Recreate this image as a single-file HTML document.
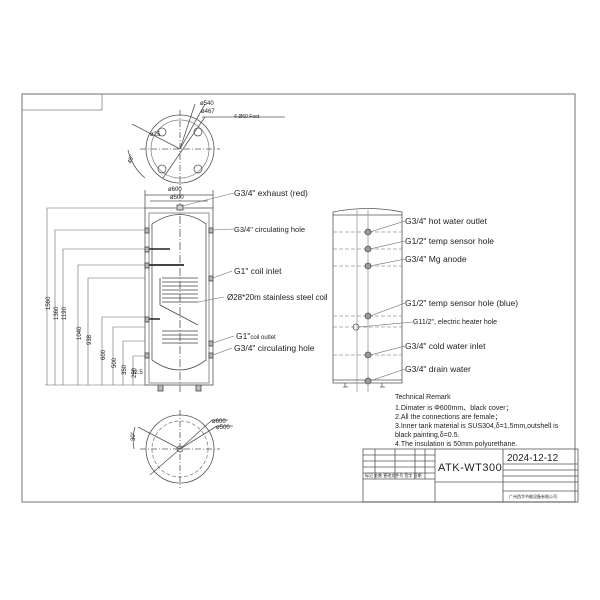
<!DOCTYPE html>
<html><head><meta charset="utf-8"><style>
html,body{margin:0;padding:0;background:#fff}
svg{display:block}
text{font-family:"Liberation Sans","Noto Sans CJK SC",sans-serif;fill:#222}
</style></head><body>
<svg width="600" height="600" viewBox="0 0 600 600" xmlns="http://www.w3.org/2000/svg">
<g fill="none" stroke="#555" stroke-width="0.8">
<!-- frame -->
<rect x="22" y="94" width="553" height="408" stroke="#888" stroke-width="1.2"/>
<rect x="22" y="94" width="80" height="16" stroke="#888"/>
<!-- top view circle -->
<circle cx="180" cy="149" r="34"/>
<circle cx="180" cy="149" r="29" stroke="#888"/>
<circle cx="162" cy="132" r="4"/><circle cx="198" cy="132" r="4"/>
<circle cx="162" cy="169" r="4"/><circle cx="198" cy="169" r="4"/>
<line x1="140" y1="149" x2="220" y2="149" stroke-dasharray="6 2 1 2"/>
<line x1="180" y1="110" x2="180" y2="188" stroke-dasharray="6 2 1 2"/>
<line x1="132" y1="124" x2="180" y2="149"/><line x1="180" y1="149" x2="205" y2="104"/>
<line x1="180" y1="149" x2="195" y2="104"/><line x1="163" y1="178" x2="205" y2="117"/>
<line x1="202" y1="117" x2="285" y2="117"/>
<path d="M128 150 A52 52 0 0 0 145 178"/>
<!-- main tank -->
<rect x="145" y="208" width="68" height="177"/>
<rect x="149" y="213" width="60" height="170" stroke="#777"/>
<path d="M152 224 Q180 205 206 224 L206 360 Q180 380 152 360 Z"/>
<line x1="180" y1="190" x2="180" y2="392" stroke-dasharray="8 2 1 2"/>
<rect x="177" y="205" width="6" height="5" fill="#ccc"/>
<line x1="145" y1="195" x2="213" y2="195"/><line x1="150" y1="201" x2="208" y2="201"/>
<line x1="145" y1="190" x2="145" y2="208"/><line x1="213" y1="190" x2="213" y2="208"/>
<!-- coil -->
<g stroke="#444">
<path d="M162 278 h36 M162 282 h36 M162 286 h36 M162 290 h36 M162 294 h36 M162 298 h36 M162 302 h36"/>
<line x1="160" y1="278" x2="160" y2="305"/><line x1="160" y1="305" x2="198" y2="325"/>
<path d="M162 331 h36 M162 335 h36 M162 339 h36 M162 343 h36"/>
</g>
<line x1="148" y1="249" x2="170" y2="249" stroke="#222" stroke-width="1.5"/>
<line x1="148" y1="265" x2="184" y2="265" stroke="#444" stroke-width="2"/>
<line x1="148" y1="319" x2="160" y2="319" stroke="#222" stroke-width="1.5"/>
<g fill="#bbb" stroke="#444">
<rect x="145" y="228" width="4" height="5"/><rect x="209" y="228" width="4" height="5"/>
<rect x="145" y="247" width="4" height="5"/><rect x="145" y="263" width="4" height="5"/>
<rect x="209" y="276" width="4" height="5"/><rect x="145" y="317" width="4" height="5"/>
<rect x="209" y="341" width="4" height="5"/><rect x="145" y="353" width="4" height="5"/>
<rect x="209" y="353" width="4" height="5"/>
<rect x="158" y="385" width="5" height="6"/><rect x="196" y="385" width="5" height="6"/>
</g>
<!-- dimension lines -->
<g stroke="#666" stroke-width="0.6">
<path d="M47 385 V208 H145 M55 385 V230 H145 M63 385 V249 H145 M78 385 V265 H145 M88 385 V278 H145 M102 385 V317 H145 M113 385 V327 H145 M123 385 V341 H145 M133 385 V356 H145"/>
<line x1="45" y1="385" x2="213" y2="385"/>
</g>
<!-- leader lines left -->
<g stroke="#666" stroke-width="0.6">
<line x1="182" y1="206" x2="234" y2="193"/><line x1="213" y1="230" x2="234" y2="229"/>
<line x1="213" y1="278" x2="232" y2="271"/><line x1="198" y1="302" x2="224" y2="297"/>
<line x1="213" y1="343" x2="234" y2="336"/><line x1="213" y1="355" x2="232" y2="348"/>
</g>
<!-- right tank -->
<path d="M333 383 V212 Q368 205 402 212 V383 Z"/>
<line x1="333" y1="215" x2="402" y2="215"/><line x1="333" y1="380" x2="402" y2="380"/>
<line x1="357" y1="210" x2="357" y2="392" stroke="#999"/><line x1="368" y1="210" x2="368" y2="392" stroke="#999"/>
<g stroke="#999" stroke-dasharray="4 2">
<line x1="333" y1="232" x2="402" y2="232"/><line x1="333" y1="249" x2="402" y2="249"/>
<line x1="333" y1="266" x2="402" y2="266"/><line x1="333" y1="316" x2="402" y2="316"/>
<line x1="333" y1="327" x2="402" y2="327"/><line x1="333" y1="355" x2="402" y2="355"/>
</g>
<g fill="#999" stroke="#555">
<circle cx="368" cy="232" r="3"/><circle cx="368" cy="249" r="3"/><circle cx="368" cy="266" r="3"/>
<circle cx="368" cy="316" r="3"/><circle cx="368" cy="355" r="3"/><circle cx="368" cy="381" r="3"/>
</g>
<circle cx="356" cy="327" r="3"/>
<g stroke="#666" stroke-width="0.6">
<line x1="370" y1="232" x2="405" y2="221"/><line x1="370" y1="249" x2="405" y2="241"/>
<line x1="370" y1="266" x2="405" y2="259"/><line x1="370" y1="316" x2="405" y2="303"/>
<line x1="359" y1="327" x2="413" y2="322"/><line x1="370" y1="355" x2="405" y2="346"/>
<line x1="370" y1="381" x2="405" y2="369"/>
</g>
<path d="M345 383 v4 M343 387 h5 M382 383 v4 M380 387 h5"/>
<!-- bottom circle -->
<circle cx="180" cy="449" r="34"/>
<circle cx="180" cy="449" r="28" stroke-dasharray="4 2" stroke="#888"/>
<circle cx="180" cy="449" r="3"/>
<line x1="140" y1="449" x2="220" y2="449" stroke-dasharray="6 2 1 2"/>
<line x1="180" y1="410" x2="180" y2="488" stroke-dasharray="6 2 1 2"/>
<line x1="138" y1="427" x2="180" y2="449"/><line x1="180" y1="449" x2="212" y2="420"/>
<line x1="180" y1="449" x2="217" y2="426"/><line x1="180" y1="449" x2="150" y2="475"/>
<line x1="212" y1="420" x2="228" y2="420"/><line x1="217" y1="426" x2="233" y2="426"/>
<path d="M135 427 A46 46 0 0 0 134 449"/>
<!-- title block -->
<rect x="363" y="449" width="215" height="53"/>
<line x1="435" y1="449" x2="435" y2="502"/><line x1="503" y1="449" x2="503" y2="502"/>
<line x1="435" y1="482" x2="503" y2="482"/>
<path d="M503 464 H578 M503 470 H578 M503 476 H578 M503 482 H578 M503 491 H578"/>
<path d="M363 455 H435 M363 461 H435 M363 467 H435 M363 473 H435 M363 479 H435"/>
<path d="M375 449 V479 M395 449 V479 M415 449 V479 M425 449 V479"/>
</g>
<g font-size="8.5">
<text x="234" y="196">G3/4" exhaust (red)</text>
<text x="234" y="232" font-size="7.5">G3/4" circulating hole</text>
<text x="234" y="274">G1" coil  inlet</text>
<text x="227" y="300" font-size="8">Ø28*20m stainless steel coil</text>
<text x="236" y="339">G1"<tspan font-size="6">coil outlet</tspan></text>
<text x="234" y="351">G3/4"  circulating hole</text>
<text x="405" y="224">G3/4"  hot water outlet</text>
<text x="405" y="244">G1/2" temp sensor hole</text>
<text x="405" y="262">G3/4"  Mg anode</text>
<text x="405" y="306">G1/2" temp sensor hole (blue)</text>
<text x="413" y="324" font-size="7">G11/2", electric heater hole</text>
<text x="405" y="349">G3/4" cold water inlet</text>
<text x="405" y="372">G3/4" drain water</text>
</g>
<g font-size="6" fill="#444">
<text x="200" y="105">ø540</text><text x="201" y="113">ø467</text>
<text x="234" y="118" font-size="5">4-Ø60 Foot</text>
<text x="150" y="136">ø25</text>
<text x="168" y="191">ø600</text><text x="170" y="199">ø500</text>
<text x="131" y="164" transform="rotate(-70 131 164)">45°</text>
<text x="212" y="423">ø600</text><text x="216" y="429">ø500</text>
<text x="135" y="441" transform="rotate(-90 135 441)">30°</text>
</g>
<g font-size="6" fill="#666">
<text transform="translate(50 310) rotate(-90)">1560</text>
<text transform="translate(58 320) rotate(-90)">1360</text>
<text transform="translate(66 320) rotate(-90)">1190</text>
<text transform="translate(81 340) rotate(-90)">1040</text>
<text transform="translate(91 345) rotate(-90)">938</text>
<text transform="translate(105 360) rotate(-90)">600</text>
<text transform="translate(116 368) rotate(-90)">500</text>
<text transform="translate(126 375) rotate(-90)">350</text>
<text transform="translate(136 378) rotate(-90)">250</text>
<text x="131" y="374">32.5</text>
</g>
<g font-size="7">
<text x="395" y="399">Technical Remark</text>
<text x="395" y="410">1.Dimater is Φ600mm、black cover；</text>
<text x="395" y="419">2.All the connections are female；</text>
<text x="395" y="428">3.Inner tank material is SUS304,δ=1.5mm,outshell is</text>
<text x="395" y="437">black painting,δ=0.5.</text>
<text x="395" y="446">4.The insulation is 50mm polyurethane.</text>
</g>
<text x="438" y="471" font-size="11" fill="#444" letter-spacing="0.5">ATK-WT300</text>
<text x="507" y="461" font-size="10" fill="#444">2024-12-12</text>
<text x="509" y="498" font-size="4" fill="#666">广州西华节能设备有限公司</text>
<text x="365" y="477" font-size="4" fill="#666">标记 处数 更改文件号 签字 日期</text>
</svg>
</body></html>
